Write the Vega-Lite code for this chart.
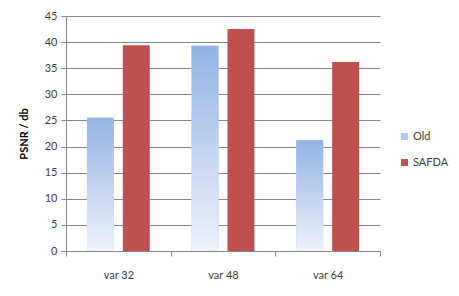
{
  "$schema": "https://vega.github.io/schema/vega-lite/v6.json",
  "autosize": {"type": "none"},
  "width": 314,
  "height": 235,
  "padding": {"left": 66, "top": 16, "right": 79, "bottom": 45},
  "background": "white",
  "data": {
    "values": [
      {"cat": "var 32", "series": "Old", "value": 25.5},
      {"cat": "var 32", "series": "SAFDA", "value": 39.4},
      {"cat": "var 48", "series": "Old", "value": 39.3},
      {"cat": "var 48", "series": "SAFDA", "value": 42.5},
      {"cat": "var 64", "series": "Old", "value": 21.2},
      {"cat": "var 64", "series": "SAFDA", "value": 36.2}
    ]
  },
  "encoding": {
    "x": {
      "field": "cat", "type": "nominal", "sort": ["var 32", "var 48", "var 64"],
      "scale": {"paddingInner": 0, "paddingOuter": 0},
      "axis": {"title": null, "labelAngle": 0, "labelPadding": 13, "tickBand": "extent", "tickSize": 5, "grid": false, "domainColor": "#868686", "tickColor": "#868686", "labelColor": "#404040", "labelFontSize": 11}
    },
    "xOffset": {
      "field": "series", "type": "nominal", "sort": ["Old", "SAFDA"],
      "scale": {"paddingInner": 0.25, "paddingOuter": 0.583}
    },
    "y": {
      "field": "value", "type": "quantitative",
      "scale": {"domain": [0, 45], "nice": false},
      "axis": {"title": "PSNR / db", "values": [0, 5, 10, 15, 20, 25, 30, 35, 40, 45], "grid": true, "gridColor": "#868686", "domainColor": "#868686", "tickColor": "#868686", "tickSize": 5, "labelPadding": 4, "labelColor": "#404040", "labelFontSize": 11, "titleFontWeight": "bold", "titleFontSize": 11, "titleColor": "#000000", "titlePadding": 15}
    }
  },
  "layer": [
    {
      "mark": {"type": "bar"},
      "encoding": {
        "color": {
          "field": "series", "type": "nominal",
          "scale": {"domain": ["Old", "SAFDA"], "range": ["#b4c9ec", "#c0504d"]},
          "legend": {"title": null, "orient": "none", "legendX": 333, "legendY": 115, "symbolType": "square", "symbolSize": 49, "symbolStrokeWidth": 0, "labelFontSize": 11, "labelColor": "#404040", "rowPadding": 14, "labelOffset": 3}
        }
      }
    },
    {
      "transform": [{"filter": "datum.series === 'Old'"}],
      "mark": {
        "type": "bar",
        "fill": {"gradient": "linear", "x1": 0, "y1": 0, "x2": 0, "y2": 1, "stops": [{"offset": 0, "color": "#93b3e4"}, {"offset": 1, "color": "#eef2fa"}]}
      }
    }
  ],
  "config": {
    "view": {"stroke": null},
    "font": "Lato"
  }
}
